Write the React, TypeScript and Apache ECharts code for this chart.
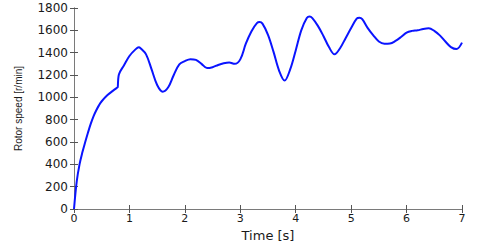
import React, { useEffect, useRef } from "react";
import * as echarts from "echarts";

const timeS = [0, 0.05, 0.1, 0.15, 0.2, 0.25, 0.3, 0.35, 0.4, 0.45, 0.5, 0.6, 0.7, 0.79, 0.8, 0.81, 0.9, 1.0, 1.1, 1.17, 1.2, 1.3, 1.4, 1.5, 1.6, 1.7, 1.8, 1.9, 2.0, 2.1, 2.2, 2.3, 2.4, 2.5, 2.6, 2.7, 2.8, 2.9, 3.0, 3.1, 3.2, 3.3, 3.35, 3.4, 3.5, 3.6, 3.7, 3.8, 3.9, 4.0, 4.1, 4.2, 4.25, 4.3, 4.4, 4.5, 4.6, 4.7, 4.8, 4.9, 5.0, 5.1, 5.15, 5.2, 5.3, 5.4, 5.5, 5.6, 5.7, 5.8, 5.9, 6.0, 6.1, 6.2, 6.3, 6.4, 6.5, 6.6, 6.7, 6.8, 6.9, 7.0];
const speedRpm = [0, 250, 400, 505, 595, 680, 760, 828, 882, 928, 965, 1018, 1058, 1090, 1093, 1205, 1285, 1370, 1425, 1448, 1440, 1385, 1250, 1110, 1050, 1090, 1200, 1295, 1325, 1342, 1335, 1300, 1262, 1270, 1290, 1305, 1312, 1300, 1340, 1480, 1590, 1665, 1674, 1660, 1560, 1407, 1240, 1150, 1250, 1420, 1600, 1710, 1724, 1710, 1640, 1550, 1450, 1385, 1440, 1530, 1620, 1705, 1713, 1700, 1620, 1555, 1500, 1480, 1482, 1505, 1540, 1580, 1595, 1600, 1612, 1618, 1595, 1555, 1500, 1450, 1432, 1490];
const yTicks = [0, 200, 400, 600, 800, 1000, 1200, 1400, 1600, 1800];

export default function App() {
  const ref = useRef<HTMLDivElement>(null);
  useEffect(() => {
    const chart = echarts.init(ref.current!, null, { renderer: "svg" });
    const data = timeS.map((t, i) => [t, speedRpm[i]]);
    const axisLine = { show: true, lineStyle: { color: "#7a7a7a", width: 1 } };
    const tick = { show: true, inside: true, length: 4, lineStyle: { color: "#555" } };
    const tickFont = { color: "#1a1a1a", fontFamily: "DejaVu Sans", fontSize: 11 };
    chart.setOption({
      animation: false,
      backgroundColor: "#fff",
      grid: { left: 74, right: 18, top: 8, bottom: 32, containLabel: false },
      xAxis: [
        {
          type: "value", min: 0, max: 7, interval: 1,
          name: "Time [s]", nameLocation: "middle", nameGap: 20,
          nameTextStyle: { color: "#1a1a1a", fontFamily: "DejaVu Sans", fontSize: 13 },
          axisLine, axisTick: tick, splitLine: { show: false },
          axisLabel: { ...tickFont, margin: 4, formatter: (v: number) => String(v) },
        },
        {
          type: "value", min: 0, max: 7, interval: 1, position: "top",
          axisLine, axisTick: tick, splitLine: { show: false }, axisLabel: { show: false },
        },
      ],
      yAxis: [
        {
          type: "value", min: yTicks[0], max: yTicks[yTicks.length - 1], interval: 200,
          name: "Rotor speed [r/min]", nameLocation: "middle", nameGap: 51, nameRotate: 90,
          nameTextStyle: { color: "#1a1a1a", fontFamily: "Liberation Sans", fontSize: 10 },
          axisLine, axisTick: tick, splitLine: { show: false },
          axisLabel: { ...tickFont, fontSize: 12, margin: 6, formatter: (v: number) => String(v) },
        },
        {
          type: "value", min: yTicks[0], max: yTicks[yTicks.length - 1], interval: 200, position: "right",
          axisLine, axisTick: tick, splitLine: { show: false }, axisLabel: { show: false },
        },
      ],
      series: [
        {
          type: "line", data, showSymbol: false, smooth: 0.35,
          lineStyle: { color: "#0a14ff", width: 2 }, xAxisIndex: 0, yAxisIndex: 0,
        },
      ],
    });
    return () => chart.dispose();
  }, []);
  return <div ref={ref} style={{ width: 480, height: 247, position: "absolute", left: 0, top: 0 }} />;
}
